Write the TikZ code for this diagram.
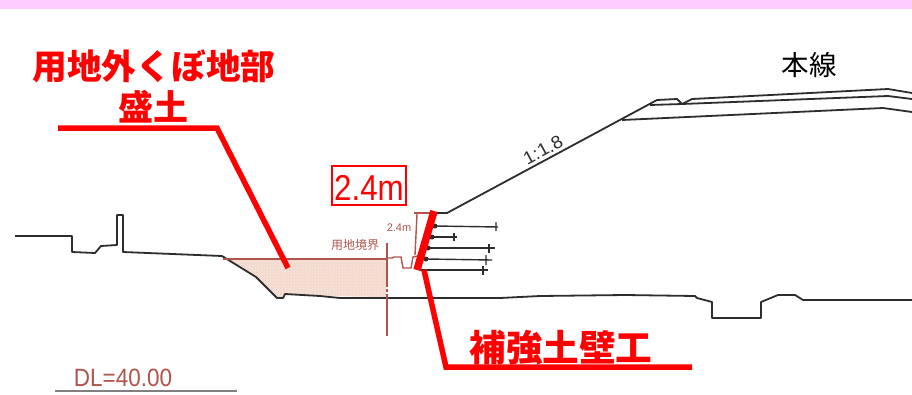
\documentclass[tikz,border=0pt]{standalone}
\usepackage{fontspec}
\setmainfont{Liberation Sans}
\newfontfamily\cjk{Noto Sans CJK JP}
\usetikzlibrary{arrows,positioning,calc,patterns}
\definecolor{plan}{RGB}{45,45,45}
\definecolor{redmark}{RGB}{255,0,0}
\definecolor{survey}{RGB}{176,84,76}
\begin{document}
\begin{tikzpicture}[
		x=1pt,
		y=-1pt,
		>=stealth,
		section/.style={
			draw=plan,
			line width=1.8pt,
			line join=round
		},
		survey line/.style={
			draw=survey,
			line width=1.4pt
		},
		leader/.style={
			draw=redmark,
			line width=5.5pt,
			line join=miter
		},
		callout/.style={
			text=redmark,
			font=\cjk\bfseries\fontsize{32}{36}\selectfont,
			inner sep=0pt
		},
		anchorbar/.style={
			draw=plan,
			line width=1.4pt
		},
		]
		\useasboundingbox (0,0) rectangle (912,394);
		\fill[white] (0,0) rectangle (912,394);
		\fill[fill={rgb,255:red,255;green,204;blue,255}] (0,0) rectangle (912,9);

		\fill[fill={rgb,255:red,243;green,218;blue,206}] (226,259) -- (386,259) -- (386,297) -- (320,296) -- (285,294) -- (283,298) -- (277,298) -- (256,277) -- cycle;
		\fill[pattern=dots,pattern color=white] (226,259) -- (386,259) -- (386,297) -- (320,296) -- (285,294) -- (283,298) -- (277,298) -- (256,277) -- cycle;

		\draw[section] (15,236) -- (72,236) -- (72,252) -- (95,253) -- (101,246) -- (117,245) -- (117,215) -- (123,215) -- (123,252) -- (222,256) -- (256,277) -- (277,298) -- (283,298) -- (285,294) -- (320,296) -- (340,298) -- (500,298) -- (540,296) -- (625,295) -- (695,296) -- (697,298) -- (712,302) -- (712,318) -- (761,318) -- (761,302) -- (778,295) -- (795,295) -- (803,300) -- (912,300);
		\draw[section] (430,213) -- (447,213) -- (657,100) -- (677,99) -- (682,104) -- (692,99) -- (888,89) -- (912,93);
		\draw[section] (650,105) -- (682,104) -- (888,96) -- (912,99);
		\draw[section] (622,120) -- (883,108) -- (912,112);

		\draw[survey line] (223,259) -- (386,259);
		\draw[survey line] (386,258) -- (392,258) -- (394,257) -- (401,257) -- (403,268) -- (411,268) -- (413,257) -- (418,256);
		\draw[survey line,dash pattern=on 44pt off 2pt on 3pt off 2pt] (387,243) -- (387,336);
		\draw[survey line] (414,213) -- (431,213);
		\draw[survey line] (417,214) -- (415,255);

		\draw[anchorbar] (435,226) -- (498,227) (496,222) -- (496,231);
		\draw[anchorbar] (432,237) -- (457,237) (454,233) -- (454,241);
		\draw[anchorbar] (428,248) -- (495,248) (489,244) -- (489,253);
		\draw[anchorbar] (426,259) -- (492,260) (486,255) -- (486,265);
		\draw[anchorbar] (420,270) -- (488,270) (483,266) -- (483,275);
		\fill[plan] (435,226) circle (2.5) (432,237) circle (2.5) (428,248) circle (2.5) (426,259) circle (2.5);

		\node[callout] (FILLTOP) at (154,66) {\fontsize{34.7}{36}\selectfont 用地外くぼ地部};
		\node[callout] (FILLLOW) at (153,107) {\fontsize{35}{36}\selectfont 盛土};
		\node[callout] (WALL) at (561,348) {\fontsize{36.6}{38}\selectfont 補強土壁工};
		\node[inner sep=0pt,font=\cjk\fontsize{27.5}{28}\selectfont] (MAIN) at (809,65) {本線};
		\node[inner sep=0pt,text=redmark,font=\fontsize{36}{38}\selectfont,xscale=0.87,transform shape] (HEIGHT) at (369,188) {2.4m};
		\draw[redmark,line width=1.5pt] (332,166) rectangle (406,205);
		\node[inner sep=0pt,text=survey,font=\fontsize{11}{12}\selectfont] (DIM) at (399,228) {2.4m};
		\node[inner sep=0pt,text=survey,font=\cjk\fontsize{12}{12}\selectfont] (BOUNDARY) at (355,245) {用地境界};
		\node[inner sep=0pt,text=plan,rotate=28,font=\fontsize{18}{20}\selectfont,xscale=1.05,transform shape] (SLOPE) at (543,150) {1:1.8};
		\node[inner sep=0pt,text=survey,font=\fontsize{25}{27}\selectfont,xscale=0.9,transform shape] (DL) at (123,378) {DL=40.00};

		\coordinate (FILLSTART) at (58,128);
		\coordinate (FILLBEND) at (217,128);
		\coordinate (FILLEND) at (288,268);
		\coordinate (WALLTOP) at (434,211);
		\coordinate (WALLFOOT) at (417,270);
		\coordinate (WALLSTART) at (424,270);
		\coordinate (WALLBEND) at (446,367);
		\coordinate (WALLEND) at (692,367);
		\coordinate (DATUMA) at (55,391);
		\coordinate (DATUMB) at (237,391);

		\draw[leader] (FILLSTART) -- (FILLBEND) -- (FILLEND);
		\draw[leader] (WALLSTART) -- (WALLBEND) -- (WALLEND);
		\draw[leader,line width=7.5pt] (WALLTOP) -- (WALLFOOT);
		\draw[gray,line width=1.2pt] (DATUMA) -- (DATUMB);
		\end{tikzpicture}
\end{document}
